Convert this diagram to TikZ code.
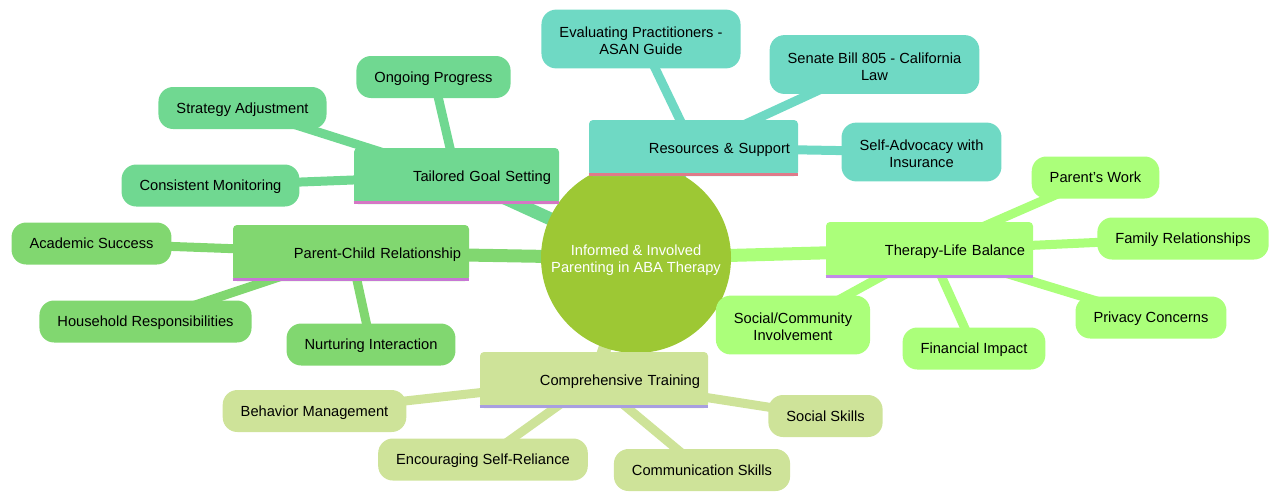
\documentclass[tikz,border=0pt]{standalone}
\usepackage{fontspec}
\setmainfont{Liberation Sans}
\usetikzlibrary{positioning}
\pgfdeclarelayer{background}
\pgfsetlayers{background,main}
\definecolor{rootgreen}{RGB}{157,200,52}
\definecolor{goalfill}{RGB}{112,216,145}
\definecolor{parentfill}{RGB}{129,215,112}
\definecolor{resfill}{RGB}{111,217,196}
\definecolor{therfill}{RGB}{171,255,122}
\definecolor{trainfill}{RGB}{206,227,153}
\definecolor{goalline}{RGB}{213,119,196}
\definecolor{parentline}{RGB}{199,119,212}
\definecolor{resline}{RGB}{224,122,138}
\definecolor{therline}{RGB}{195,138,232}
\definecolor{trainline}{RGB}{168,159,224}
\newcommand{\upperstrut}{\rule{0pt}{11pt}}

\begin{document}
\begin{tikzpicture}[x=0.75pt, y=-0.75pt,
  font=\fontsize{11}{13}\selectfont,
  rootnode/.style={circle, fill=rootgreen, minimum size=142.5pt, text=white, align=center, inner sep=0pt},
  branchnode/.style={rectangle, rounded corners=3pt, minimum height=42pt, inner xsep=6pt, align=right,
    text height=8pt, text depth=-2pt},
  leafnode/.style={rectangle, rounded corners=11pt, minimum height=31.5pt, inner xsep=13.5pt, inner ysep=6pt,
    align=center, text height=8pt, text depth=-2pt},
  leaftwo/.style={rectangle, rounded corners=11pt, inner xsep=13.5pt, inner ysep=10pt, align=center},
  trunk/.style={line width=9.75pt},
  twig/.style={line width=6.75pt},
  uline/.style={line width=2.25pt}
]
\useasboundingbox (0,0) rectangle (1280,501);

\node[rootnode] (root) at (636,258) {\upperstrut Informed \& Involved\\Parenting in ABA Therapy};

% branches
\node[branchnode, fill=goalfill, text width=141.75pt] (goal) at (456.5,176) {Tailored Goal Setting};
\node[branchnode, fill=parentfill, text width=165pt] (parent) at (351,253) {Parent-Child Relationship};
\node[branchnode, fill=resfill, text width=144.75pt] (res) at (693.5,148) {Resources \& Support};
\node[branchnode, fill=therfill, text width=143.25pt] (ther) at (929.5,250) {Therapy-Life Balance};
\node[branchnode, fill=trainfill, text width=159pt] (train) at (594,380) {Comprehensive Training};

% leaves
\node[leafnode, fill=goalfill] (progress) at (433.5,77) {Ongoing Progress};
\node[leafnode, fill=goalfill] (strategy) at (242.5,108) {Strategy Adjustment};
\node[leafnode, fill=goalfill] (monitor) at (210.5,185.5) {Consistent Monitoring};
\node[leaftwo, fill=resfill] (evaluate) at (641,39) {\upperstrut Evaluating Practitioners -\\ASAN Guide};
\node[leaftwo, fill=resfill] (senate) at (874.5,64.5) {\upperstrut Senate Bill 805 - California\\Law};
\node[leaftwo, fill=resfill] (insurance) at (921.5,152) {\upperstrut Self-Advocacy with\\Insurance};
\node[leafnode, fill=parentfill] (academic) at (91.5,243.5) {Academic Success};
\node[leafnode, fill=parentfill] (household) at (145.5,321.5) {Household Responsibilities};
\node[leafnode, fill=parentfill] (nurture) at (371,344.5) {Nurturing Interaction};
\node[leafnode, fill=therfill] (work) at (1095.5,177.5) {Parent's Work};
\node[leafnode, fill=therfill] (family) at (1183,238.5) {Family Relationships};
\node[leafnode, fill=therfill] (privacy) at (1151,317.5) {Privacy Concerns};
\node[leafnode, fill=therfill] (finance) at (974,348.5) {Financial Impact};
\node[leaftwo, fill=therfill] (community) at (793,325) {\upperstrut Social/Community\\Involvement};
\node[leafnode, fill=trainfill] (behavior) at (314.5,411) {Behavior Management};
\node[leafnode, fill=trainfill] (selfrel) at (483,459.5) {Encouraging Self-Reliance};
\node[leafnode, fill=trainfill] (commskill) at (702,470) {Communication Skills};
\node[leafnode, fill=trainfill] (social) at (825.5,416) {Social Skills};

% underlines
\draw[uline, goalline] ([yshift=1pt]goal.south west) -- ([yshift=1pt]goal.south east);
\draw[uline, parentline] ([yshift=1pt]parent.south west) -- ([yshift=1pt]parent.south east);
\draw[uline, resline] ([yshift=1pt]res.south west) -- ([yshift=1pt]res.south east);
\draw[uline, therline] ([yshift=1pt]ther.south west) -- ([yshift=1pt]ther.south east);
\draw[uline, trainline] ([yshift=1pt]train.south west) -- ([yshift=1pt]train.south east);

\begin{pgfonlayer}{background}
\draw[trunk, goalfill] (root.center) -- (goal.center);
\draw[trunk, parentfill] (root.center) -- (parent.center);
\draw[trunk, resfill] (root.center) -- (res.center);
\draw[trunk, therfill] (root.center) -- (ther.center);
\draw[trunk, trainfill] (root.center) -- (train.center);
\foreach \leaf in {progress,strategy,monitor}
  \draw[twig, goalfill] (goal.center) -- (\leaf.center);
\foreach \leaf in {evaluate,senate,insurance}
  \draw[twig, resfill] (res.center) -- (\leaf.center);
\foreach \leaf in {academic,household,nurture}
  \draw[twig, parentfill] (parent.center) -- (\leaf.center);
\foreach \leaf in {work,family,privacy,finance,community}
  \draw[twig, therfill] (ther.center) -- (\leaf.center);
\foreach \leaf in {behavior,selfrel,commskill,social}
  \draw[twig, trainfill] (train.center) -- (\leaf.center);
\end{pgfonlayer}
\end{tikzpicture}
\end{document}
